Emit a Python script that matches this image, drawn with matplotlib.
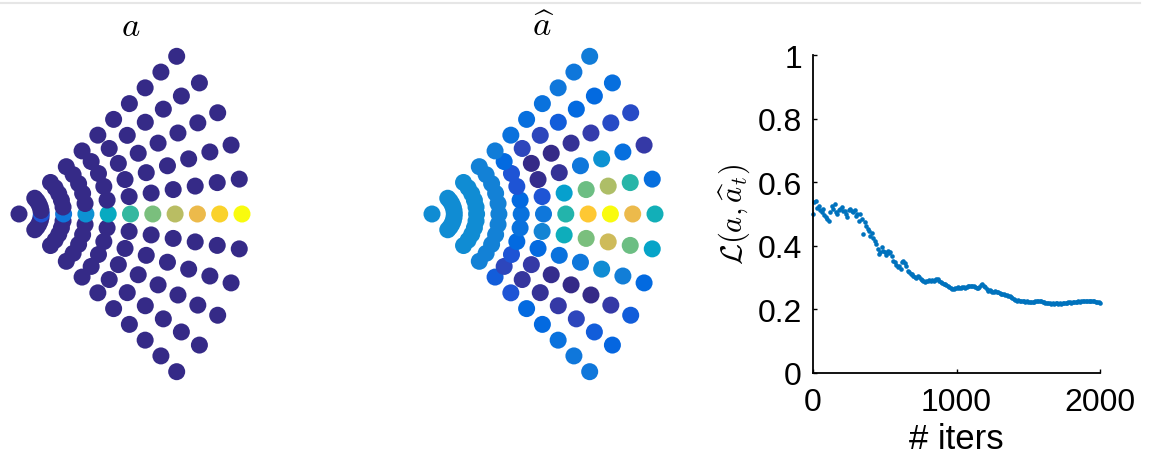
import numpy as np
import matplotlib
matplotlib.use("Agg")
import matplotlib.pyplot as plt
from matplotlib.colors import LinearSegmentedColormap
from matplotlib.lines import Line2D
import matplotlib.transforms as mtransforms

plt.rcParams["mathtext.fontset"] = "cm"
plt.rcParams["font.family"] = ["Liberation Sans", "DejaVu Sans"]

# Parula-like colormap
parula_stops = [
    (0.000, (0.2081, 0.1663, 0.5292)),
    (0.048, (0.2081, 0.2386, 0.6771)),
    (0.095, (0.1253, 0.3242, 0.8303)),
    (0.143, (0.0060, 0.4086, 0.8828)),
    (0.206, (0.0629, 0.4737, 0.8554)),
    (0.254, (0.0793, 0.5200, 0.8312)),
    (0.302, (0.0488, 0.5772, 0.8228)),
    (0.349, (0.0239, 0.6287, 0.8038)),
    (0.397, (0.0267, 0.6642, 0.7607)),
    (0.444, (0.0843, 0.6928, 0.7062)),
    (0.492, (0.1801, 0.7177, 0.6424)),
    (0.540, (0.3022, 0.7376, 0.5712)),
    (0.587, (0.4420, 0.7481, 0.5033)),
    (0.635, (0.5709, 0.7485, 0.4494)),
    (0.683, (0.6834, 0.7435, 0.4044)),
    (0.730, (0.7858, 0.7356, 0.3633)),
    (0.778, (0.8824, 0.7274, 0.3217)),
    (0.825, (0.9739, 0.7314, 0.2666)),
    (0.873, (0.9955, 0.7861, 0.1967)),
    (0.921, (0.9697, 0.8481, 0.1475)),
    (0.968, (0.9598, 0.9218, 0.0948)),
    (1.000, (0.9763, 0.9831, 0.0538)),
]
parula = LinearSegmentedColormap.from_list("parula", parula_stops)

# Polar sampling grid: rings 1..10, angles -45..45 deg (bottom to top)
radii = np.arange(1, 11)
angles_deg = np.arange(-45, 46, 9)

# Ground-truth field a: zero everywhere except along the 0-degree ray
a_center = 0.0
a_ray = [1, 2, 3, 4, 5, 6, 7, 8, 9, 10]

# Reconstruction a_hat (rows: ring 1..10, columns: angle -45..45)
ahat_center = 0.28
ahat = [
    [0.28, 0.28, 0.28, 0.28, 0.28, 0.28, 0.28, 0.28, 0.28, 0.28, 0.28],
    [0.28, 0.28, 0.28, 0.28, 0.28, 0.28, 0.28, 0.28, 0.28, 0.28, 0.28],
    [0.24, 0.24, 0.24, 0.24, 0.24, 0.24, 0.24, 0.24, 0.24, 0.24, 0.24],
    [0.12, 0.07, 0.10, 0.15, 0.18, 0.18, 0.15, 0.10, 0.10, 0.15, 0.22],
    [0.10, 0.03, 0.04, 0.15, 0.25, 0.20, 0.10, 0.01, 0.00, 0.07, 0.18],
    [0.15, 0.02, 0.01, 0.18, 0.42, 0.47, 0.35, 0.02, 0.00, 0.07, 0.17],
    [0.15, 0.04, 0.00, 0.20, 0.60, 0.87, 0.58, 0.20, 0.02, 0.12, 0.18],
    [0.18, 0.07, 0.00, 0.28, 0.74, 1.00, 0.68, 0.30, 0.05, 0.15, 0.20],
    [0.20, 0.12, 0.04, 0.23, 0.58, 0.80, 0.48, 0.17, 0.08, 0.15, 0.20],
    [0.20, 0.14, 0.12, 0.15, 0.37, 0.43, 0.17, 0.04, 0.08, 0.17, 0.22],
]

# Loss over iterations
iters = np.arange(0, 2001, 10)
loss = [
    0.500, 0.537, 0.542, 0.518, 0.526, 0.512, 0.507, 0.516, 0.498, 0.490,
    0.484, 0.479, 0.505, 0.526, 0.516, 0.531, 0.507, 0.500, 0.512, 0.516,
    0.521, 0.510, 0.511, 0.500, 0.490, 0.512, 0.516, 0.510, 0.505, 0.513,
    0.495, 0.500, 0.479, 0.500, 0.484, 0.437, 0.474, 0.463, 0.453, 0.445,
    0.432, 0.440, 0.425, 0.416, 0.405, 0.390, 0.374, 0.380, 0.395, 0.385,
    0.380, 0.372, 0.385, 0.376, 0.380, 0.368, 0.353, 0.348, 0.340, 0.332,
    0.337, 0.327, 0.348, 0.353, 0.345, 0.337, 0.322, 0.317, 0.312, 0.311,
    0.306, 0.301, 0.298, 0.306, 0.302, 0.296, 0.294, 0.290, 0.285, 0.288,
    0.290, 0.292, 0.289, 0.291, 0.290, 0.293, 0.296, 0.295, 0.290, 0.286,
    0.284, 0.281, 0.280, 0.277, 0.274, 0.270, 0.268, 0.265, 0.264, 0.266,
    0.268, 0.270, 0.268, 0.266, 0.269, 0.270, 0.268, 0.272, 0.275, 0.274,
    0.273, 0.275, 0.274, 0.270, 0.268, 0.266, 0.272, 0.276, 0.280, 0.274,
    0.270, 0.264, 0.259, 0.262, 0.258, 0.254, 0.256, 0.258, 0.255, 0.256,
    0.253, 0.250, 0.248, 0.249, 0.246, 0.244, 0.243, 0.241, 0.238, 0.235,
    0.232, 0.228, 0.227, 0.228, 0.227, 0.226, 0.227, 0.225, 0.224, 0.225,
    0.223, 0.222, 0.222, 0.223, 0.224, 0.226, 0.227, 0.227, 0.226, 0.225,
    0.224, 0.222, 0.221, 0.220, 0.219, 0.219, 0.218, 0.219, 0.218, 0.219,
    0.219, 0.218, 0.219, 0.218, 0.219, 0.220, 0.220, 0.221, 0.222, 0.222,
    0.221, 0.223, 0.224, 0.223, 0.224, 0.225, 0.224, 0.225, 0.226, 0.225,
    0.226, 0.227, 0.227, 0.226, 0.225, 0.226, 0.225, 0.224, 0.223, 0.222,
    0.221,
]

W, H = 1152, 464
fig = plt.figure(figsize=(W / 100, H / 100), dpi=100)

# thin rule along the top edge
fig.add_artist(Line2D([0, 0.99], [1 - 3.5 / H] * 2, color="#e6e6e6", lw=1.5))


def fan_coords():
    th = np.deg2rad(angles_deg)
    xs, ys = [0.0], [0.0]
    for r in radii:
        xs.extend(r * np.cos(th))
        ys.extend(r * np.sin(th))
    return np.array(xs), np.array(ys)


def fan_axes(cx_px):
    scale = 22.3
    x0, x1, y0, y1 = -0.8, 10.8, -7.5, 7.5
    left = cx_px + x0 * scale
    bottom = (H - 215) + y0 * scale
    ax = fig.add_axes([left / W, bottom / H, (x1 - x0) * scale / W, (y1 - y0) * scale / H])
    ax.set_xlim(x0, x1)
    ax.set_ylim(y0, y1)
    ax.axis("off")
    return ax


xs, ys = fan_coords()
dot_area = 150

# Field a
a_vals = [a_center]
for i, r in enumerate(radii):
    row = [0.0] * len(angles_deg)
    row[list(angles_deg).index(0)] = a_ray[i]
    a_vals.extend(row)
ax1 = fan_axes(19)
ax1.scatter(xs, ys, c=a_vals, cmap=parula, vmin=0, vmax=10, s=dot_area, edgecolors="none")
tr1 = mtransforms.blended_transform_factory(ax1.transData, fig.transFigure)
ax1.text(5, 1 - 36 / H, r"$a$", transform=tr1, ha="center", va="baseline", fontsize=25)

# Field a_hat
ahat_vals = [ahat_center] + [v for row in ahat for v in row]
ax2 = fan_axes(432)
ax2.scatter(xs, ys, c=ahat_vals, cmap=parula, vmin=0, vmax=1, s=dot_area, edgecolors="none")
tr2 = mtransforms.blended_transform_factory(ax2.transData, fig.transFigure)
ax2.text(5, 1 - 36 / H, r"$\widehat{a}$", transform=tr2, ha="center", va="baseline", fontsize=25)

# Loss curve
ax3 = fig.add_axes([813 / W, (H - 374) / H, 287 / W, 318 / H])
ax3.plot(iters, loss, "o", color="#0072BD", ms=3.3, mew=0, clip_on=False)
ax3.set_xlim(0, 2000)
ax3.set_ylim(0, 1)
ax3.set_xticks([0, 1000, 2000])
ax3.set_yticks([0, 0.2, 0.4, 0.6, 0.8, 1])
ax3.set_yticklabels(["0", "0.2", "0.4", "0.6", "0.8", "1"])
ax3.spines["top"].set_visible(False)
ax3.spines["right"].set_visible(False)
for s in ("left", "bottom"):
    ax3.spines[s].set_linewidth(1.3)
ax3.tick_params(direction="in", length=3, width=1.0, labelsize=23)
ax3.tick_params(axis="y", pad=8)
ax3.tick_params(axis="x", pad=10)
ax3.set_xlabel("# iters", fontsize=25, labelpad=4)
ax3.set_ylabel(r"$\mathcal{L}(a,\widehat{a}_t)$", fontsize=22, labelpad=4)

fig.savefig("out.png", dpi=100)
